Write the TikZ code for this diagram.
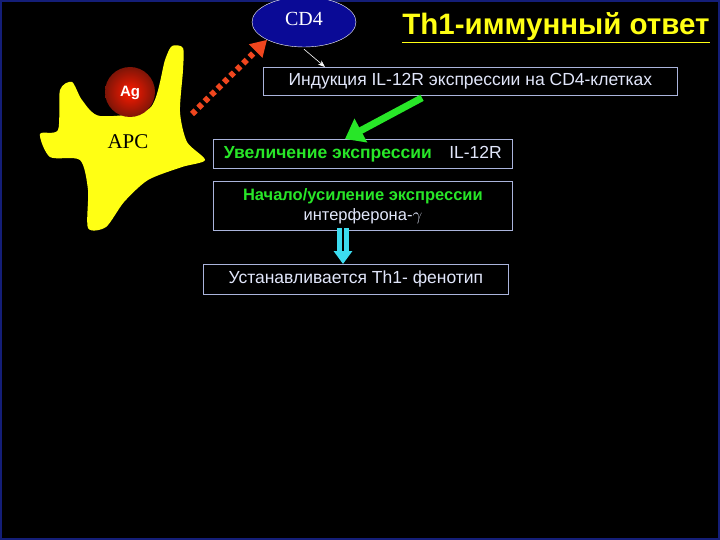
\documentclass[tikz,border=0pt]{standalone}
\usepackage{fontspec}
\setmainfont{Liberation Sans}
\newfontfamily\serifx{Liberation Serif}
\usetikzlibrary{arrows.meta,shapes.geometric}
\definecolor{boxline}{RGB}{170,180,220}
\definecolor{txtw}{RGB}{225,230,250}
\definecolor{grn}{RGB}{40,230,40}
\definecolor{ylw}{RGB}{255,255,20}
\definecolor{cdblue}{RGB}{10,10,150}
\definecolor{agred}{RGB}{180,30,10}
\definecolor{orng}{RGB}{240,70,30}
\definecolor{cyn}{RGB}{60,220,240}
\definecolor{frame}{RGB}{20,30,120}
\tikzset{
  stepbox/.style={draw=boxline,line width=0.8pt,anchor=north west,inner sep=0pt},
  wtxt/.style={text=txtw,font=\fontsize{17.5}{20}\selectfont},
}
\begin{document}
\begin{tikzpicture}[x=1pt,y=-1pt]
\fill[black] (0,0) rectangle (720,540);
\draw[frame,line width=1.5pt] (1,1) rectangle (719,539);
\useasboundingbox (0,0) rectangle (720,540);
% APC cell
\fill[ylw] plot[smooth cycle,tension=0.45] coordinates{(40,134) (58,130) (60,90) (72,82) (82,100) (100,116) (150,108) (165,60) (172,46) (183,48) (183,70) (180,112) (187,142) (205,160) (182,167) (148,180) (124,202) (106,227) (88,228) (88,190) (80,160) (50,157)};
\shade[inner color=red!80!orange,outer color=agred!70!black] (130,92) circle (25);
\node[text=white,font=\bfseries\fontsize{15}{17}\selectfont] (ag) at (130,93) {Ag};
\node[font=\serifx\fontsize{21}{24}\selectfont,text=black] (apc) at (128,142) {APC};
% CD4
\node[ellipse,draw=white,fill=cdblue,minimum width=104,minimum height=50,text=white,font=\serifx\fontsize{20}{22}\selectfont,inner sep=0pt] (cd4) at (304,22) {\raisebox{6pt}{CD4}};
% title
\node[text=ylw,font=\bfseries\fontsize{29.5}{32}\selectfont] (title) at (556,28) {\underline{Th1-иммунный ответ}};
% boxes
\node[stepbox,minimum width=414,minimum height=28,wtxt] (b1) at (263,67) {Индукция IL-12R экспрессии на CD4-клетках};
\node[stepbox,minimum width=299,minimum height=29,font=\bfseries\fontsize{17.5}{20}\selectfont] (b2) at (213,139) {\textcolor{grn}{Увеличение экспрессии}\quad\textcolor{txtw}{\mdseries IL-12R}};
\node[stepbox,minimum width=299,minimum height=49,align=center,font=\fontsize{16.5}{19}\selectfont] (b3) at (213,181) {\textcolor{grn}{\bfseries Начало/усиление экспрессии}\\[1pt]\textcolor{txtw}{интерферона-$\gamma$}};
\node[stepbox,minimum width=305,minimum height=30,wtxt] (b4) at (203,264) {Устанавливается Th1- фенотип};
% connectors
\draw[white,line width=0.6pt,-{Stealth[length=7pt]}] (cd4.south) ++(0,2) -- ([xshift=62pt]b1.north west);
\draw[grn,line width=7pt,-{Triangle[length=18pt,width=26pt]}] ([xshift=159pt,yshift=-2pt]b1.south west) -- ([xshift=132pt]b2.north west);
\coordinate (rs) at (192,114);
\draw[orng,line width=6pt,dash pattern=on 5pt off 4pt,-{Triangle[length=16pt,width=18pt]}] (rs) -- (cd4.south west);
\draw[cyn,line width=5pt,double=black,double distance=1.2pt,-{Triangle[length=13pt,width=18pt]}] ([xshift=130pt]b3.south west) ++(0,-3) -- ([xshift=140pt]b4.north west);
\end{tikzpicture}
\end{document}
